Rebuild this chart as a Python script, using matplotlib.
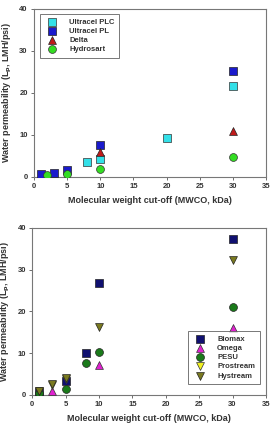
import matplotlib
matplotlib.use("Agg")
import matplotlib.pyplot as plt

plt.rcParams['font.family'] = ['Liberation Sans', 'DejaVu Sans']
plt.rcParams['font.weight'] = 'bold'

# Top panel data
plc_x = [8, 10, 20, 30]
plc_y = [3.6, 4.3, 9.2, 21.6]
pl_x = [1, 3, 5, 10, 30]
pl_y = [0.6, 1.0, 1.7, 7.6, 25.1]
delta_x = [10, 30]
delta_y = [5.8, 10.8]
hyd_x = [2, 5, 10, 30]
hyd_y = [0.4, 0.7, 1.8, 4.8]

# Bottom panel data
bio_x = [1, 5, 8, 10, 30]
bio_y = [0.6, 3.4, 9.9, 26.9, 37.4]
omega_x = [1, 3, 10, 30]
omega_y = [0.4, 1.0, 7.2, 16.1]
pesu_x = [1, 5, 8, 10, 30]
pesu_y = [0.4, 1.4, 7.6, 10.3, 21.0]
pro_x = [1, 3, 5]
pro_y = [0.9, 2.3, 3.9]
hys_x = [1, 3, 5, 10, 30]
hys_y = [1.0, 2.5, 4.1, 16.2, 32.3]

xticks = [0, 5, 10, 15, 20, 25, 30, 35]
yticks = [0, 10, 20, 30, 40]

fig = plt.figure(figsize=(2.77, 4.25), dpi=100)
ax1 = fig.add_axes([0.123, 0.584, 0.837, 0.395])
ax2 = fig.add_axes([0.116, 0.071, 0.844, 0.393])

ms = 26
tc = '#333333'

def style(ax):
    ax.set_xlim(0, 35)
    ax.set_ylim(0, 40)
    ax.set_xticks(xticks)
    ax.set_yticks(yticks)
    ax.tick_params(direction='out', length=2.5, width=0.6, labelsize=5.5, colors='#555555', labelcolor=tc, pad=2)
    for lab in ax.get_xticklabels() + ax.get_yticklabels():
        lab.set_fontweight('bold')
    for s in ax.spines.values():
        s.set_color('#777777')
        s.set_linewidth(0.8)
    ax.set_xlabel('Molecular weight cut-off (MWCO, kDa)', fontsize=6.5, fontweight='bold', color=tc, labelpad=4)
    ax.set_ylabel('Water permeability (L$_\\mathbf{p}$, LMH/psi)', fontsize=6.5, fontweight='bold', color=tc, labelpad=4)

ax1.scatter(plc_x, plc_y, marker='s', s=ms, c='#33e0e8', edgecolors='#333333', linewidths=0.5, label='Ultracel PLC', zorder=3)
ax1.scatter(pl_x, pl_y, marker='s', s=ms, c='#1a1acc', edgecolors='#222222', linewidths=0.5, label='Ultracel PL', zorder=3)
ax1.scatter(delta_x, delta_y, marker='^', s=ms + 6, c='#c01a1a', edgecolors='#222222', linewidths=0.5, label='Delta', zorder=3)
ax1.scatter(hyd_x, hyd_y, marker='o', s=ms + 6, c='#33dd22', edgecolors='#333333', linewidths=0.5, label='Hydrosart', zorder=3)
style(ax1)
leg1 = ax1.legend(loc='upper left', fontsize=5.5, frameon=True, fancybox=False, edgecolor='#555555',
                  borderpad=0.6, handletextpad=1.2, labelspacing=0.25, bbox_to_anchor=(0.01, 0.995))
leg1.get_frame().set_linewidth(0.7)
for t in leg1.get_texts():
    t.set_color(tc)

ax2.scatter(bio_x, bio_y, marker='s', s=ms, c='#101070', edgecolors='#222222', linewidths=0.5, label='Biomax', zorder=3)
ax2.scatter(omega_x, omega_y, marker='^', s=ms + 6, c='#e020d0', edgecolors='#333333', linewidths=0.5, label='Omega', zorder=3)
ax2.scatter(pesu_x, pesu_y, marker='o', s=ms + 6, c='#1a7a1a', edgecolors='#222222', linewidths=0.5, label='PESU', zorder=3)
ax2.scatter(pro_x, pro_y, marker='v', s=ms + 6, c='#f0f020', edgecolors='#333333', linewidths=0.5, label='Prostream', zorder=3)
ax2.scatter(hys_x, hys_y, marker='v', s=ms + 6, c='#7a7a20', edgecolors='#222222', linewidths=0.5, label='Hystream', zorder=3)
style(ax2)
leg2 = ax2.legend(loc='lower right', fontsize=5.5, frameon=True, fancybox=False, edgecolor='#555555',
                  borderpad=0.6, handletextpad=1.2, labelspacing=0.25, bbox_to_anchor=(0.99, 0.04))
leg2.get_frame().set_linewidth(0.7)
for t in leg2.get_texts():
    t.set_color(tc)

fig.savefig('out.png', dpi=100)
